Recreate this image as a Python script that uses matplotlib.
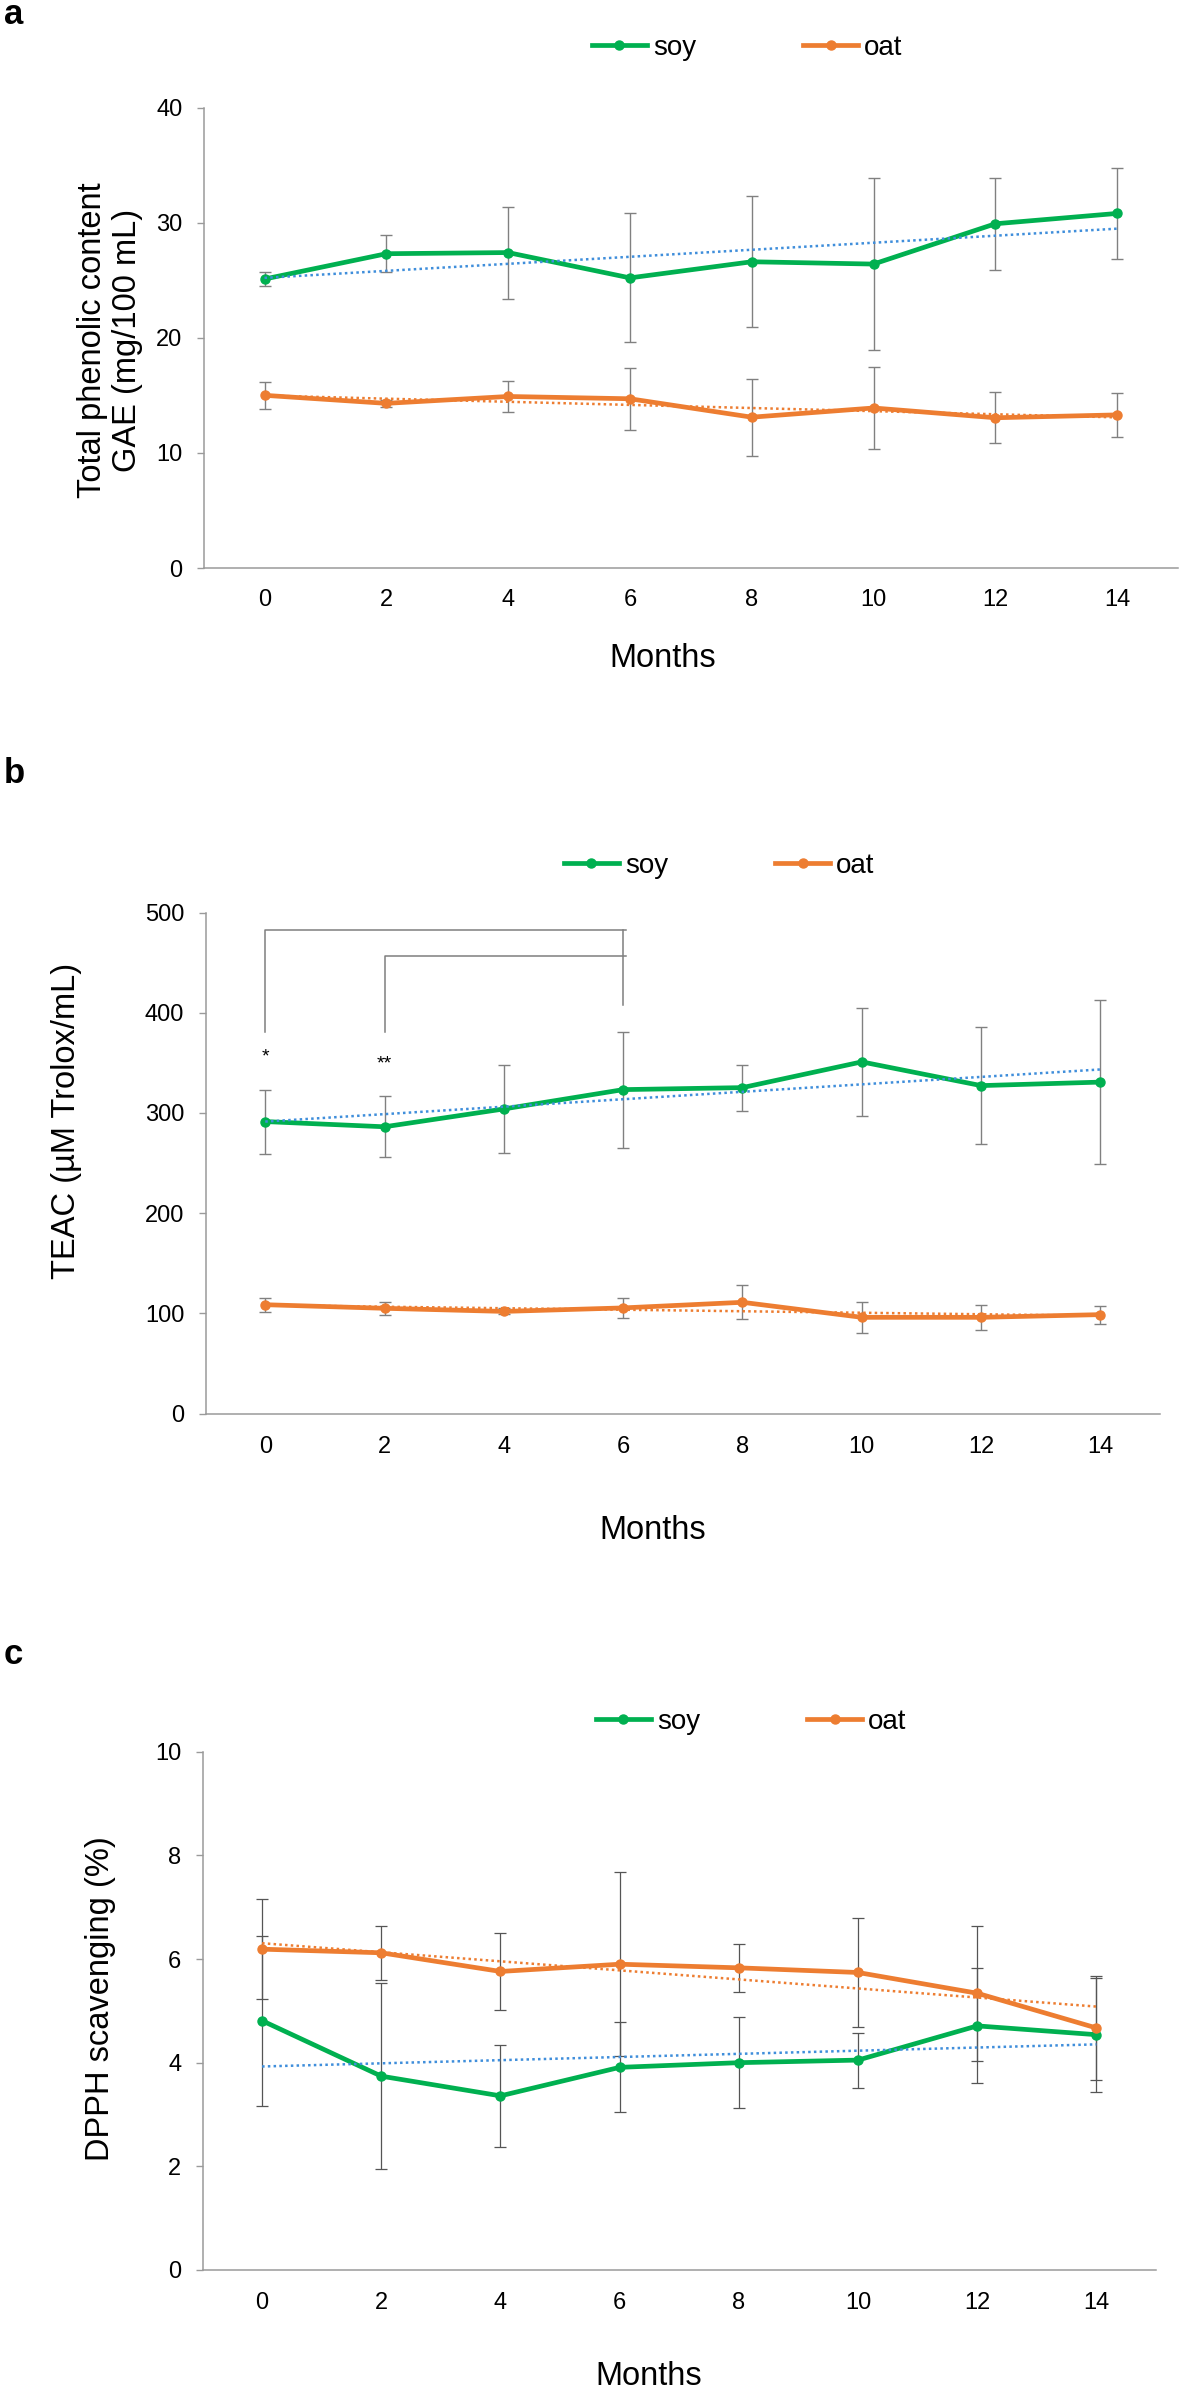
import numpy as np
import matplotlib.pyplot as plt

plt.rcParams['font.family'] = ['Liberation Sans', 'DejaVu Sans']

months = [0, 2, 4, 6, 8, 10, 12, 14]
month_labels = ['0', '2', '4', '6', '8', '10', '12', '14']

##### a: total phenolic content (mg GAE / 100 mL)
tpc_soy = [25.1, 27.3, 27.4, 25.2, 26.6, 26.4, 29.9, 30.8]
tpc_soy_err = [0.6, 1.6, 4.0, 5.6, 5.7, 7.45, 4.0, 3.95]
tpc_oat = [15.0, 14.3, 14.9, 14.7, 13.1, 13.9, 13.05, 13.3]
tpc_oat_err = [1.15, 0.3, 1.37, 2.7, 3.36, 3.6, 2.2, 1.92]

##### b: TEAC (uM Trolox / mL)
teac_soy = [291.4, 286.2, 304.0, 323.3, 325.3, 351.0, 327.3, 330.8]
teac_soy_err = [32, 30.5, 44, 58, 23, 54, 58.5, 82]
teac_oat = [108.6, 105.0, 101.9, 105.4, 111.0, 96.0, 96.0, 98.7]
teac_oat_err = [7, 6.5, 3, 10, 17, 15.5, 12.7, 9]
# significance brackets: (left month, right month, bar height, left leg bottom)
brackets = [(0, 6, 483, 381), (2, 6, 456.6, 380.6)]
bracket_right_leg_bottom = 408
stars = ['*', '**']
star_months = [0, 2]
star_y = [351, 344]

##### c: DPPH scavenging (%)
dpph_soy = [4.81, 3.74, 3.36, 3.91, 4.0, 4.05, 4.71, 4.54]
dpph_soy_err = [1.64, 1.79, 0.98, 0.87, 0.88, 0.53, 1.11, 1.1]
dpph_oat = [6.19, 6.12, 5.76, 5.9, 5.83, 5.74, 5.34, 4.67]
dpph_oat_err = [0.96, 0.52, 0.75, 1.77, 0.46, 1.05, 1.3, 1.0]

GREEN = '#00B050'
ORANGE = '#ED7D31'
BLUE_TREND = '#3F8EDB'
AXIS_GRAY = '#9A9A9A'

W, H, DPI = 1181, 2392, 100
fig = plt.figure(figsize=(W / DPI, H / DPI), dpi=DPI)


def px_axes(left, right, top, bottom):
    return fig.add_axes([left / W, 1 - bottom / H, (right - left) / W, (bottom - top) / H])


def draw_panel(ax, soy, soy_err, oat, oat_err, ylim, ystep, err_color, err_lw, oat_on_top=False):
    x = np.array(months)
    # error bars
    ax.errorbar(x, soy, yerr=soy_err, fmt='none', ecolor=err_color, elinewidth=err_lw,
                capsize=4.5, capthick=err_lw, zorder=2)
    ax.errorbar(x, oat, yerr=oat_err, fmt='none', ecolor=err_color, elinewidth=err_lw,
                capsize=4.5, capthick=err_lw, zorder=2)
    # series
    z_soy, z_oat = (3, 4) if oat_on_top else (4, 3)
    h_soy, = ax.plot(x, soy, color=GREEN, lw=3.4, marker='o', ms=6.5, zorder=z_soy, label='soy')
    h_oat, = ax.plot(x, oat, color=ORANGE, lw=3.4, marker='o', ms=6.5, zorder=z_oat, label='oat')
    # linear trend lines (least squares on the series)
    for vals, col in ((soy, BLUE_TREND), (oat, ORANGE)):
        k, b = np.polyfit(x, vals, 1)
        xx = np.array([x[0], x[-1]])
        ax.plot(xx, k * xx + b, color=col, lw=1.8, linestyle=(0, (1, 1.3)), zorder=5)

    ax.set_xlim(-1, 15)
    ax.set_ylim(*ylim)
    ax.set_yticks(np.arange(ylim[0], ylim[1] + ystep / 2, ystep))
    ax.set_xticks(x)
    ax.set_xticklabels(month_labels)
    for s in ('top', 'right'):
        ax.spines[s].set_visible(False)
    for s in ('left', 'bottom'):
        ax.spines[s].set_color(AXIS_GRAY)
        ax.spines[s].set_linewidth(1.1)
    ax.tick_params(axis='y', direction='out', length=4.8, width=1.0, color=AXIS_GRAY,
                   labelsize=17, pad=10.5)
    ax.tick_params(axis='x', length=0, labelsize=17)
    return h_soy, h_oat


def add_legend(ax, handles, cx, cy):
    ax.legend(handles, ['soy', 'oat'], loc='center', bbox_to_anchor=(cx / W, 1 - cy / H),
              bbox_transform=fig.transFigure, ncol=2, frameon=False, fontsize=20,
              handlelength=2.0, handletextpad=0.2, columnspacing=3.85, borderpad=0)


#### panel a
ax_a = px_axes(203.6, 1178, 107.5, 568)
hs = draw_panel(ax_a, tpc_soy, tpc_soy_err, tpc_oat, tpc_oat_err, (0, 40), 10, '#808080', 1.0)
ax_a.tick_params(axis='x', pad=14.8)
ax_a.set_ylabel('Total phenolic content\nGAE (mg/100 mL)', fontsize=23.5, va='center',
                linespacing=1.2)
ax_a.yaxis.set_label_coords(-0.096, 0.495)
ax_a.set_xlabel('Months', fontsize=23.5, va='center')
ax_a.xaxis.set_label_coords(0.471, -0.196)
add_legend(ax_a, hs, 747, 48)

#### panel b
ax_b = px_axes(205.6, 1160, 912.6, 1413.5)
hs = draw_panel(ax_b, teac_soy, teac_soy_err, teac_oat, teac_oat_err, (0, 500), 100, '#808080', 1.0)
ax_b.tick_params(axis='x', pad=16.2)
ax_b.set_ylabel('TEAC (µM Trolox/mL)', fontsize=23.5, va='center')
ax_b.yaxis.set_label_coords(-0.146, 0.584)
ax_b.set_xlabel('Months', fontsize=23.5, va='center')
ax_b.xaxis.set_label_coords(0.468, -0.2335)
for (m0, m1, top, leg_bottom) in brackets:
    ax_b.plot([m0, m0, m1 + 0.05], [leg_bottom, top, top], color='#7F7F7F', lw=1.1, zorder=1)
ax_b.plot([6, 6], [brackets[0][2], bracket_right_leg_bottom], color='#7F7F7F', lw=1.1, zorder=1)
for s, m, y in zip(stars, star_months, star_y):
    ax_b.text(m, y, s, ha='center', va='baseline', fontsize=14)
add_legend(ax_b, hs, 719, 866)

#### panel c
ax_c = px_axes(202.5, 1156, 1751.7, 2270)
hs = draw_panel(ax_c, dpph_soy, dpph_soy_err, dpph_oat, dpph_oat_err, (0, 10), 2, '#555555', 0.9,
                oat_on_top=True)
ax_c.tick_params(axis='x', pad=15.5)
ax_c.set_ylabel('DPPH scavenging (%)', fontsize=23.5, va='center')
ax_c.yaxis.set_label_coords(-0.107, 0.523)
ax_c.set_xlabel('Months', fontsize=23.5, va='center')
ax_c.xaxis.set_label_coords(0.468, -0.206)
add_legend(ax_c, hs, 751, 1722)

#### panel letters
for letter, base in (('a', 24), ('b', 783), ('c', 1664)):
    fig.text(4 / W, 1 - base / H, letter, fontsize=25, fontweight='bold', va='baseline', ha='left')

fig.savefig('out.png', dpi=DPI)
